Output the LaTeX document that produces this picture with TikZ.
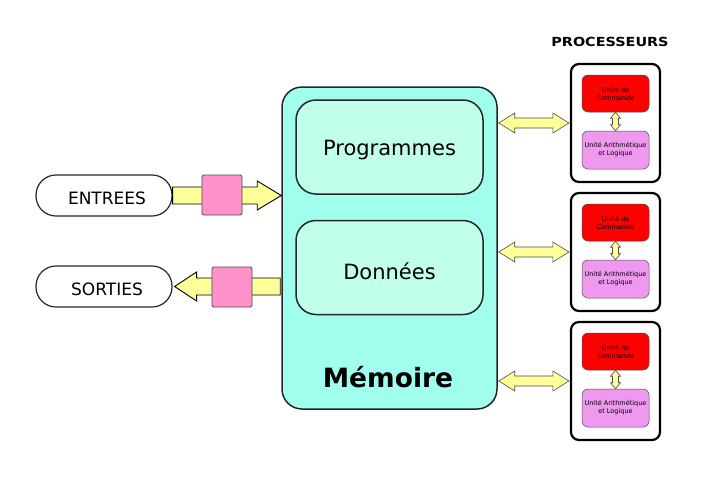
\documentclass[tikz,border=0pt]{standalone}
\usepackage{fontspec}
\setmainfont{DejaVu Sans}
\usetikzlibrary{calc}
\definecolor{memfill}{RGB}{160,255,236}
\definecolor{subfill}{RGB}{192,255,234}
\definecolor{arrfill}{RGB}{255,255,153}
\definecolor{sqfill}{RGB}{255,146,200}
\definecolor{alufill}{RGB}{238,153,238}
\newcommand\lowered[2]{\raisebox{0pt}[\dimexpr\height+#1\relax][\depth]{#2}}
\tikzset{
  membox/.style={draw=black!85, line width=1.5pt, fill=memfill, rounded corners=20pt, minimum width=215pt, minimum height=322pt},
  subbox/.style={draw=black!85, line width=1.5pt, fill=subfill, rounded corners=20pt, minimum width=187pt, minimum height=94pt, font=\fontsize{21}{25}\selectfont},
  iobox/.style={draw=black!85, line width=1.2pt, fill=white, rounded corners=20pt, minimum width=136pt, minimum height=41pt, font=\fontsize{17}{20}\selectfont},
  procbox/.style={draw=black, line width=2.2pt, fill=white, rounded corners=8pt, minimum width=89pt, minimum height=118pt},
  cubox/.style={draw=black!70, line width=0.5pt, fill=red, rounded corners=6pt, minimum width=67pt, minimum height=37pt, align=center, font=\fontsize{6.5}{8}\selectfont, inner sep=0pt},
  alubox/.style={draw=black!70, line width=0.5pt, fill=alufill, rounded corners=6pt, minimum width=67pt, minimum height=38pt, align=center, font=\fontsize{6.5}{8}\selectfont, inner sep=0pt},
  sqbox/.style={draw=black!70, line width=0.8pt, fill=sqfill, rounded corners=1.5pt, minimum width=40pt, minimum height=40pt},
  blockarrow/.style={draw=black, line width=0.9pt, fill=arrfill, line join=miter},
  thinarrow/.style={draw=black!70, line width=0.6pt, fill=arrfill, line join=miter}
}
\newcommand\hdarrow[2]{%
  \path[thinarrow] let \p1=(#1), \p2=(#2) in
    (\x1,\y1) -- (\x1+16pt,\y1+10pt) -- (\x1+16pt,\y1+5pt) -- (\x2-16pt,\y1+5pt) -- (\x2-16pt,\y1+10pt)
    -- (\x2,\y1) -- (\x2-16pt,\y1-10pt) -- (\x2-16pt,\y1-5pt) -- (\x1+16pt,\y1-5pt) -- (\x1+16pt,\y1-10pt) -- cycle;}
\newcommand\vdarrow[2]{%
  \path[thinarrow] let \p1=(#1), \p2=(#2) in
    (\x1,\y1) -- (\x1+5pt,\y1-6pt) -- (\x1+3pt,\y1-6pt) -- (\x1+3pt,\y2+6pt) -- (\x1+5pt,\y2+6pt)
    -- (\x1,\y2) -- (\x1-5pt,\y2+6pt) -- (\x1-3pt,\y2+6pt) -- (\x1-3pt,\y1-6pt) -- (\x1-5pt,\y1-6pt) -- cycle;}
\begin{document}
\begin{tikzpicture}[x=1pt,y=-1pt]
\useasboundingbox (0,0) rectangle (712,477);
% memory
\node[membox] (mem) at (389.5,248) {};
\node[subbox] (prog) at (389.5,147) {\lowered{6pt}{Programmes}};
\node[subbox] (donn) at (389.5,267.5) {\lowered{8pt}{Données}};
\node[font=\fontsize{26.5}{30}\selectfont\bfseries] (memlabel) at (388,377) {Mémoire};
% inputs / outputs
\node[iobox] (entrees) at (104,195.5) {\lowered{5pt}{\hspace{6pt}ENTREES}};
\node[iobox] (sorties) at (104,286.5) {\lowered{5pt}{\hspace{6pt}SORTIES}};
\path[blockarrow] let \p1=(entrees.east), \p2=(mem.west) in
  (\x1,\y1+8.5pt) -- (\x2-24pt,\y1+8.5pt) -- (\x2-24pt,\y1+14.5pt) -- (\x2,\y1) -- (\x2-24pt,\y1-14.5pt) -- (\x2-24pt,\y1-8.5pt) -- (\x1,\y1-8.5pt) -- cycle;
\path[blockarrow] let \p1=(sorties.east), \p2=(mem.west) in
  (\x2-1pt,\y1+8.5pt) -- (\x1+24pt,\y1+8.5pt) -- (\x1+24pt,\y1+14.5pt) -- (\x1+2pt,\y1) -- (\x1+24pt,\y1-14.5pt) -- (\x1+24pt,\y1-8.5pt) -- (\x2-1pt,\y1-8.5pt) -- cycle;
\node[sqbox] (sqin) at (222,195) {};
\node[sqbox] (sqout) at (232,287) {};
% processors
\node[font=\fontsize{12.5}{15}\selectfont\bfseries, xscale=1.15] (proctitle) at (610,42) {PROCESSEURS};
\foreach \i/\y in {1/123,2/252,3/381}{
  \node[procbox] (p\i) at (615.5,\y) {};
  \node[cubox] (cu\i) at (615.5,\y-29.5) {Unité de\\Commande};
  \node[alubox] (alu\i) at (615.5,\y+27) {Unité Arithmétique\\et Logique};
  \vdarrow{cu\i.south}{alu\i.north}
  \coordinate (ma\i) at (mem.east |- 0,\y);
  \coordinate (pa\i) at (p\i.west |- 0,\y);
  \hdarrow{$(ma\i)+(1,0)$}{$(pa\i)+(-1,0)$}
}
\end{tikzpicture}
\end{document}
